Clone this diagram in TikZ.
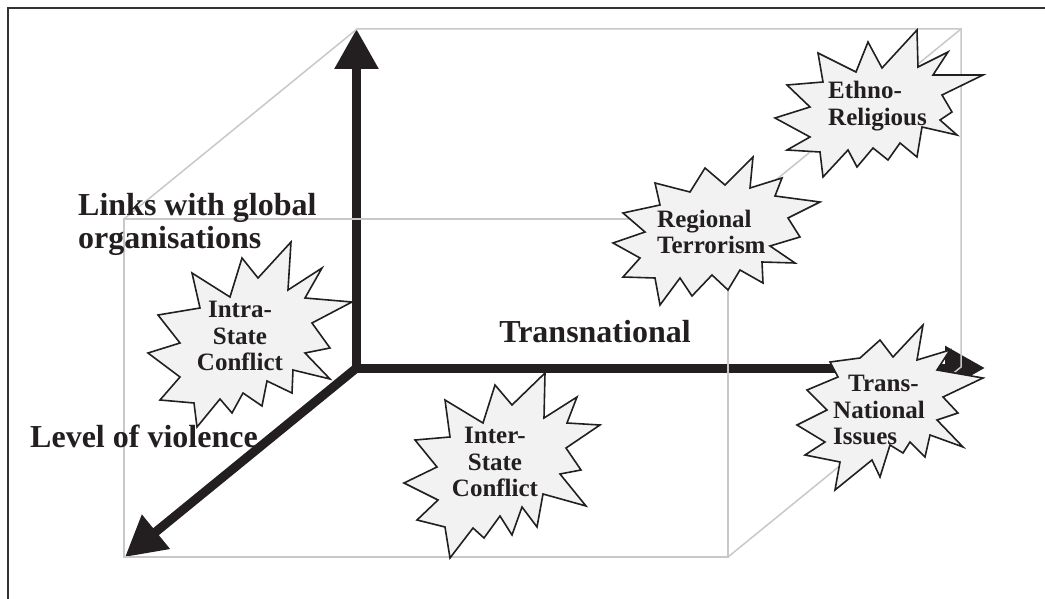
\documentclass[tikz,border=0pt]{standalone}
\usepackage{fontspec}
\setmainfont{Liberation Serif}
\usetikzlibrary{arrows.meta}
\definecolor{ink}{HTML}{231F20}
\definecolor{cubegrey}{HTML}{C8C8C8}
\definecolor{starfill}{HTML}{F2F2F2}
\definecolor{framegrey}{HTML}{333333}
\tikzset{
  bigtip/.tip={Triangle[length=40pt,width=42pt]},
  axisline/.style={line width=9pt, draw=ink, line join=miter},
  cubeline/.style={draw=cubegrey, line width=1.5pt},
  frameline/.style={draw=framegrey, line width=1.5pt},
  burst/.style={draw=ink, line width=1.6pt, fill=starfill, line join=miter, miter limit=12},
  biglabel/.style={font=\fontsize{32}{33}\selectfont\bfseries, text=ink, inner sep=0pt},
  burstlabel/.style={font=\fontsize{25}{26.7}\selectfont\bfseries, text=ink, inner sep=0pt},
}
\begin{document}
\begin{tikzpicture}[x=1pt,y=-1pt]
\useasboundingbox (0,0) rectangle (1045,599);
% frame
\draw[frameline] (8,599) -- (8,8) -- (1045,8);
% axes
\coordinate (O) at (356.5,368);
\coordinate (Ytip) at (356.5,29);
\coordinate (Xtip) at (985,368);
\coordinate (Ztip) at (125,557);
\draw[axisline, bigtip-bigtip] (Ytip) -- (O) -- (Xtip);
\draw[axisline, -bigtip] (O) -- (Ztip);
% cube
\coordinate (BTL) at (357,29);
\coordinate (BTR) at (961,29);
\coordinate (BBR) at (961,367);
\coordinate (FTL) at (124,219);
\coordinate (FTR) at (728,219);
\coordinate (FBR) at (728,557);
\coordinate (FBL) at (124,557);
\draw[cubeline] (FBL) -- (FTL) -- (FTR) -- (FBR) -- cycle;
\draw[cubeline] (FTL) -- (BTL) -- (BTR) -- (BBR) -- (FBR);
\draw[cubeline] (BTR) -- (FTR);
% bursts
\draw[burst] (291,242) -- (288,290) -- (322,268) -- (305,298) -- (352,302) -- (312,323)
  -- (330,348) -- (305,353) -- (330,379) -- (293,370) -- (292,393) -- (267,381)
  -- (262,406) -- (243,393) -- (232,413) -- (220,399) -- (197,427) -- (194,403)
  -- (160,400) -- (180,377) -- (148,353) -- (180,343) -- (158,315) -- (200,308)
  -- (192,273) -- (230,297) -- (242,258) -- (258,278) -- cycle;
\draw[burst] (545,373) -- (544,418) -- (577,397) -- (567,423) -- (600,425) -- (566,448)
  -- (581,470) -- (560,474) -- (586,506) -- (543,494) -- (537,527) -- (522,507)
  -- (512,535) -- (500,516) -- (484,538) -- (473,528) -- (450,558) -- (445,527)
  -- (417,520) -- (438,500) -- (404,483) -- (437,467) -- (415,440) -- (450,437)
  -- (445,400) -- (483,423) -- (495,385) -- (512,405) -- cycle;
\draw[burst] (753,157) -- (750,188) -- (782,178) -- (775,196) -- (820,202) -- (788,218)
  -- (800,237) -- (770,246) -- (795,263) -- (762,262) -- (763,283) -- (740,270)
  -- (728,290) -- (712,275) -- (692,296) -- (680,278) -- (660,305) -- (655,278)
  -- (623,277) -- (640,258) -- (613,243) -- (645,232) -- (623,213) -- (660,205)
  -- (655,183) -- (690,192) -- (705,168) -- (725,185) -- cycle;
\draw[burst] (917,30) -- (918,67) -- (948,52) -- (933,75) -- (983,75) -- (942,95)
  -- (952,112) -- (940,120) -- (957,135) -- (922,127) -- (917,157) -- (900,143)
  -- (888,160) -- (873,148) -- (857,167) -- (848,150) -- (823,177) -- (820,152)
  -- (787,150) -- (810,137) -- (775,118) -- (810,107) -- (787,85) -- (823,82)
  -- (818,53) -- (856,72) -- (868,42) -- (882,68) -- cycle;
\draw[burst] (923,325) -- (917,360) -- (950,350) -- (937,370) -- (983,378) -- (943,397)
  -- (958,413) -- (937,420) -- (963,447) -- (930,435) -- (925,457) -- (910,442)
  -- (903,453) -- (890,445) -- (880,477) -- (872,460) -- (835,490) -- (840,462)
  -- (805,455) -- (825,442) -- (797,425) -- (827,410) -- (807,390) -- (838,377)
  -- (830,362) -- (860,358) -- (880,340) -- (893,357) -- cycle;
% labels
\node[biglabel, anchor=west, align=left] (links) at (78,224) {Links with global\\organisations};
\node[biglabel, anchor=base] (transnational) at (595,342) {Transnational};
\node[biglabel, anchor=base west] (violence) at (30,447) {Level of violence};
\node[burstlabel, align=center] (intra) at (240,336) {Intra-\\State\\Conflict};
\node[burstlabel, align=center] (inter) at (495,462) {Inter-\\State\\Conflict};
\node[burstlabel, align=left, anchor=west] (transnat) at (833,410) {\hspace*{15pt}Trans-\\National\\Issues};
\node[burstlabel, align=left, anchor=west] (ethno) at (828,106) {Ethno-\\Religious};
\node[burstlabel, align=left, anchor=west] (regional) at (657,232) {Regional\\Terrorism};
\end{tikzpicture}
\end{document}
